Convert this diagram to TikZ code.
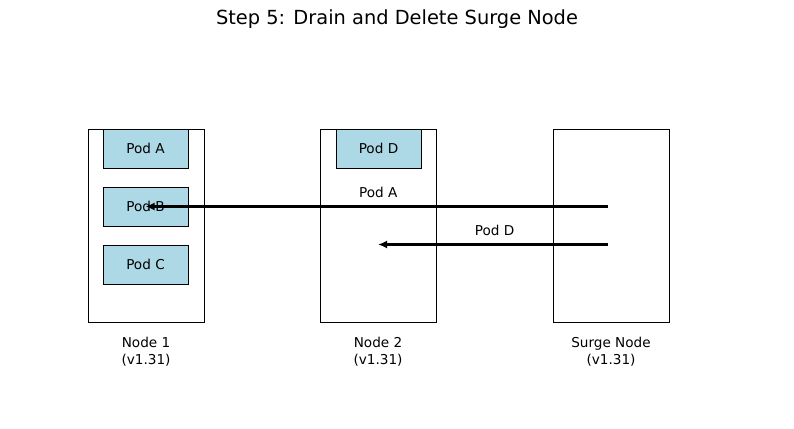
\documentclass[tikz,border=0pt]{standalone}
\usepackage{fontspec}
\setmainfont{DejaVu Sans}
\usepackage{tikz}
\usetikzlibrary{arrows.meta, calc, positioning}
\definecolor{podblue}{HTML}{ADD8E6}

\begin{document}
\begin{tikzpicture}[
		x=1pt, y=-1pt,
		texts/.style = {text=black, font=\fontsize{13.6}{17}\selectfont},
		labeltexts/.style = {texts, align=center},
		nodebox/.style = {draw=black, line width=1pt, fill=white, minimum width=116pt, minimum height=193pt, inner sep=0pt},
		podbox/.style = {texts, draw=black, line width=1pt, fill=podblue, minimum width=85pt, minimum height=39pt, inner sep=0pt},
		moveline/.style = {draw=black, line width=2.2pt, shorten <=3pt, -{Latex[length=9pt, width=8pt]}}
		]
		\useasboundingbox (0,0) rectangle (794,428);
		\node [texts, font=\fontsize{19.4}{22}\selectfont] (title) at (397,19) {Step 5: Drain and Delete Surge Node};
		
		\node [nodebox, label={[labeltexts, label distance=11pt]below:Node 1\\(v1.31)}] (node1) at (146,225.5) {};
		\node [nodebox, label={[labeltexts, label distance=11pt]below:Node 2\\(v1.31)}] (node2) at (378,225.5) {};
		\node [nodebox, label={[labeltexts, label distance=11pt]below:Surge Node\\(v1.31)}] (surge) at (611,225.5) {};
		
		\node [podbox] (podA) at (145.5,148.5) {Pod A};
		\node [podbox, below = 18pt of podA] (podB) {Pod B};
		\node [podbox, below = 18pt of podB] (podC) {Pod C};
		\node [podbox] (podD) at (378.5,148.5) {Pod D};
		
		\coordinate (fromA) at (surge.center |- podB.center);
		\coordinate (fromD) at ($ (surge.center) + (0,19) $);
		\coordinate (toD) at (node2.center |- fromD);
		
		\draw[moveline] (fromA) -- node [texts, above=4pt] {Pod A} (podB.center);
		\draw[moveline] (fromD) -- node [texts, above=4pt] {Pod D} (toD);
		
		\end{tikzpicture}
\end{document}
